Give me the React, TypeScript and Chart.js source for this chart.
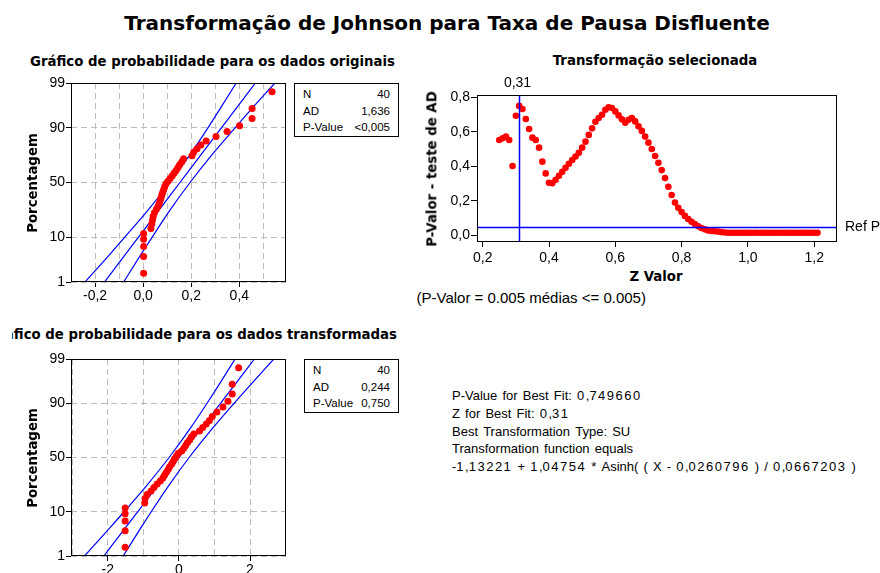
import React, { useEffect, useRef } from "react";
import { Chart, registerables } from "chart.js";

Chart.register(...registerables);

// ---------- Data ----------
// plotting positions (median ranks) in percent, n = 40
const PERCENTILES = [1.7, 4.2, 6.7, 9.2, 11.6, 14.1, 16.6, 19.1, 21.5, 24.0, 26.5, 29.0, 31.4, 33.9, 36.4, 38.9, 41.3, 43.8, 46.3, 48.8, 51.2, 53.7, 56.2, 58.7, 61.1, 63.6, 66.1, 68.6, 71.0, 73.5, 76.0, 78.5, 80.9, 83.4, 85.9, 88.4, 90.8, 93.3, 95.8, 98.3];

const ORIGINAL_DATA = [0.002, 0.002, 0.002, 0.002, 0.002, 0.032, 0.036, 0.039, 0.042, 0.047, 0.055, 0.062, 0.067, 0.071, 0.075, 0.078, 0.082, 0.086, 0.090, 0.095, 0.103, 0.112, 0.121, 0.129, 0.137, 0.145, 0.152, 0.161, 0.168, 0.203, 0.210, 0.224, 0.240, 0.262, 0.303, 0.349, 0.401, 0.453, 0.453, 0.536];

const TRANSFORMED_DATA = [-1.51, -1.51, -1.51, -1.51, -1.51, -0.96, -0.95, -0.89, -0.78, -0.70, -0.61, -0.52, -0.45, -0.40, -0.35, -0.30, -0.26, -0.20, -0.16, -0.12, -0.07, -0.02, 0.08, 0.14, 0.19, 0.24, 0.30, 0.35, 0.42, 0.58, 0.67, 0.77, 0.86, 0.94, 1.07, 1.24, 1.38, 1.50, 1.50, 1.68];

// fitted line and 95% band, at these percent levels
const BAND_PCT = [1, 5, 10, 25, 50, 75, 90, 95, 99];
const ORIG_LOWER = [-0.242, -0.133, -0.077, 0.016, 0.111, 0.198, 0.270, 0.311, 0.387];
const ORIG_FIT = [-0.161, -0.069, -0.020, 0.062, 0.153, 0.244, 0.326, 0.375, 0.467];
const ORIG_UPPER = [-0.081, -0.005, 0.037, 0.108, 0.195, 0.290, 0.383, 0.439, 0.548];
const TRANS_LOWER = [-2.652, -1.922, -1.539, -0.918, -0.274, 0.310, 0.793, 1.072, 1.582];
const TRANS_FIT = [-2.109, -1.489, -1.158, -0.606, 0.008, 0.622, 1.174, 1.505, 2.125];
const TRANS_UPPER = [-1.566, -1.056, -0.777, -0.294, 0.290, 0.934, 1.555, 1.938, 2.668];

const PCT_TICKS = [1, 10, 50, 90, 99];
const ORIG_X_TICKS = [-0.2, -0.1, 0, 0.1, 0.2, 0.3, 0.4, 0.5];
const ORIG_X_LABELED = [-0.2, 0, 0.2, 0.4];
const TRANS_X_TICKS = [-3, -2, -1, 0, 1, 2, 3];
const TRANS_X_LABELED = [-2, 0, 2];

const Z_VALUES = [0.25, 0.26, 0.27, 0.28, 0.29, 0.30, 0.31, 0.32, 0.33, 0.34, 0.35, 0.36, 0.37, 0.38, 0.39, 0.40, 0.41, 0.42, 0.43, 0.44, 0.45, 0.46, 0.47, 0.48, 0.49, 0.50, 0.51, 0.52, 0.53, 0.54, 0.55, 0.56, 0.57, 0.58, 0.59, 0.60, 0.61, 0.62, 0.63, 0.64, 0.65, 0.66, 0.67, 0.68, 0.69, 0.70, 0.71, 0.72, 0.73, 0.74, 0.75, 0.76, 0.77, 0.78, 0.79, 0.80, 0.81, 0.82, 0.83, 0.84, 0.85, 0.86, 0.87, 0.88, 0.89, 0.90, 0.91, 0.92, 0.93, 0.94, 0.95, 0.96, 0.97, 0.98, 0.99, 1.00, 1.01, 1.02, 1.03, 1.04, 1.05, 1.06, 1.07, 1.08, 1.09, 1.10, 1.11, 1.12, 1.13, 1.14, 1.15, 1.16, 1.17, 1.18, 1.19, 1.20, 1.21];
const P_VALUES = [0.552, 0.562, 0.572, 0.552, 0.402, 0.693, 0.750, 0.732, 0.674, 0.616, 0.566, 0.552, 0.508, 0.427, 0.359, 0.305, 0.302, 0.322, 0.345, 0.368, 0.392, 0.415, 0.437, 0.457, 0.478, 0.508, 0.543, 0.582, 0.620, 0.658, 0.680, 0.699, 0.728, 0.742, 0.738, 0.718, 0.695, 0.672, 0.652, 0.670, 0.680, 0.660, 0.632, 0.605, 0.572, 0.537, 0.500, 0.460, 0.420, 0.378, 0.332, 0.282, 0.234, 0.190, 0.160, 0.135, 0.113, 0.095, 0.079, 0.066, 0.053, 0.043, 0.035, 0.029, 0.026, 0.024, 0.022, 0.019, 0.017, 0.015, 0.015, 0.015, 0.015, 0.015, 0.015, 0.015, 0.015, 0.015, 0.015, 0.015, 0.015, 0.015, 0.015, 0.015, 0.015, 0.015, 0.015, 0.015, 0.015, 0.015, 0.015, 0.015, 0.015, 0.015, 0.015, 0.015, 0.015];
const Z_TICKS = [0.2, 0.4, 0.6, 0.8, 1.0, 1.2];
const P_TICKS = [0, 0.2, 0.4, 0.6, 0.8];
const BEST_Z = 0.31;
const REF_P = 0.05;

const STATS_ORIGINAL = [["N", "40"], ["AD", "1,636"], ["P-Value", "<0,005"]];
const STATS_TRANSFORMED = [["N", "40"], ["AD", "0,244"], ["P-Value", "0,750"]];
const BEST_FIT_LINES = [
  "P-Value for Best Fit: 0,749660",
  "Z for Best Fit: 0,31",
  "Best Transformation Type: SU",
  "Transformation function equals",
  "-1,13221 + 1,04754 * Asinh( ( X - 0,0260796 ) / 0,0667203 )",
];

// ---------- helpers ----------
const TICK_FONT = "Liberation Sans";
const BOLD_FONT = "DejaVu Sans";

function probit(p: number): number {
  const a = [-3.969683028665376e1, 2.209460984245205e2, -2.759285104469687e2, 1.38357751867269e2, -3.066479806614716e1, 2.506628277459239];
  const b = [-5.447609879822406e1, 1.615858368580409e2, -1.556989798598866e2, 6.680131188771972e1, -1.328068155288572e1];
  const c = [-7.784894002430293e-3, -3.223964580411365e-1, -2.400758277161838, -2.549732539343734, 4.374664141464968, 2.938163982698783];
  const d = [7.784695709041462e-3, 3.224671290700398e-1, 2.445134137142996, 3.754408661907416];
  const plow = 0.02425;
  if (p < plow) {
    const q = Math.sqrt(-2 * Math.log(p));
    return (((((c[0] * q + c[1]) * q + c[2]) * q + c[3]) * q + c[4]) * q + c[5]) / ((((d[0] * q + d[1]) * q + d[2]) * q + d[3]) * q + 1);
  }
  if (p <= 1 - plow) {
    const q = p - 0.5;
    const r = q * q;
    return ((((((a[0] * r + a[1]) * r + a[2]) * r + a[3]) * r + a[4]) * r + a[5]) * q) / (((((b[0] * r + b[1]) * r + b[2]) * r + b[3]) * r + b[4]) * r + 1);
  }
  const q = Math.sqrt(-2 * Math.log(1 - p));
  return -(((((c[0] * q + c[1]) * q + c[2]) * q + c[3]) * q + c[4]) * q + c[5]) / ((((d[0] * q + d[1]) * q + d[2]) * q + d[3]) * q + 1);
}

const fmt = (v: number, dec: number) => v.toFixed(dec).replace(".", ",");
const inList = (list: number[], v: number) => list.some((l) => Math.abs(l - v) < 1e-9);

const framePlugin = {
  id: "frame",
  afterDraw(chart: any) {
    const { ctx, chartArea: a } = chart;
    const l = Math.round(a.left), t = Math.round(a.top), r = Math.round(a.right), b = Math.round(a.bottom);
    ctx.save();
    ctx.strokeStyle = "#000";
    ctx.lineWidth = 1;
    ctx.setLineDash([]);
    ctx.strokeRect(l + 0.5, t + 0.5, r - l - 1, b - t - 1);
    ctx.restore();
  },
};

const refPlugin = {
  id: "refLines",
  afterDatasetsDraw(chart: any) {
    const { ctx, chartArea: a, scales } = chart;
    const px = Math.round(scales.x.getPixelForValue(BEST_Z)) + 0.5;
    const py = Math.round(scales.y.getPixelForValue(REF_P)) + 0.5;
    ctx.save();
    ctx.strokeStyle = "#0000ff";
    ctx.lineWidth = 1.5;
    ctx.beginPath();
    ctx.moveTo(px, a.top);
    ctx.lineTo(px, a.bottom);
    ctx.moveTo(a.left, py);
    ctx.lineTo(a.right, py);
    ctx.stroke();
    ctx.fillStyle = "#000";
    ctx.font = `14px "${TICK_FONT}"`;
    ctx.textAlign = "center";
    ctx.textBaseline = "middle";
    ctx.fillText(fmt(BEST_Z, 2), px - 2, a.top - 12);
    ctx.textAlign = "left";
    ctx.fillText("Ref P", a.right + 8, py);
    ctx.restore();
  },
};

function probConfig(values: number[], lower: number[], fit: number[], upper: number[], xMin: number, xMax: number, xTicks: number[], xLabeled: number[], dec: number) {
  const band = (arr: number[]) => arr.map((x, i) => ({ x, y: probit(BAND_PCT[i] / 100) }));
  const lineDs = (arr: number[]) => ({
    data: band(arr),
    showLine: true,
    pointRadius: 0,
    borderColor: "#0000ff",
    borderWidth: 1.2,
    cubicInterpolationMode: "monotone",
  });
  return {
    type: "scatter",
    data: {
      datasets: [
        {
          data: values.map((x, i) => ({ x, y: probit(PERCENTILES[i] / 100) })),
          pointRadius: 3.5,
          pointBackgroundColor: "#ff0000",
          pointBorderWidth: 0,
          showLine: false,
        },
        lineDs(lower),
        lineDs(fit),
        lineDs(upper),
      ],
    },
    options: {
      responsive: false,
      animation: false,
      devicePixelRatio: 1,
      layout: { padding: { top: 12, right: 8, left: 0, bottom: 0 } },
      plugins: { legend: { display: false }, tooltip: { enabled: false } },
      scales: {
        x: {
          type: "linear",
          min: xMin,
          max: xMax,
          afterBuildTicks: (s: any) => {
            s.ticks = xTicks.map((v) => ({ value: v }));
          },
          afterFit: (s: any) => {
            s.height = 26;
          },
          ticks: {
            autoSkip: false,
            maxRotation: 0,
            padding: 1,
            color: "#000",
            font: { family: TICK_FONT, size: 14 },
            callback: (v: number) => (inList(xLabeled, v) ? fmt(v, dec) : ""),
          },
          grid: {
            color: "#bdbdbd",
            lineWidth: 1,
            tickLength: 5,
            tickWidth: 1,
            tickColor: (ctx: any) => (ctx.tick && inList(xLabeled, ctx.tick.value) ? "#000" : "rgba(0,0,0,0)"),
          },
          border: { display: false, dash: [6, 4] },
        },
        y: {
          type: "linear",
          min: probit(0.01),
          max: probit(0.99),
          afterBuildTicks: (s: any) => {
            s.ticks = PCT_TICKS.map((p) => ({ value: probit(p / 100) }));
          },
          afterFit: (s: any) => {
            s.width = 50;
          },
          ticks: {
            autoSkip: false,
            padding: 1,
            color: "#000",
            font: { family: TICK_FONT, size: 14 },
            callback: (_v: number, i: number) => String(PCT_TICKS[i]),
          },
          grid: { color: "#bdbdbd", lineWidth: 1, tickLength: 5, tickWidth: 1, tickColor: "#000" },
          border: { display: false, dash: [6, 4] },
        },
      },
    },
    plugins: [framePlugin],
  };
}

function zConfig() {
  return {
    type: "scatter",
    data: {
      datasets: [
        {
          data: Z_VALUES.map((z, i) => ({ x: z, y: P_VALUES[i] })),
          pointRadius: 3.3,
          pointBackgroundColor: "#ff0000",
          pointBorderWidth: 0,
        },
      ],
    },
    options: {
      responsive: false,
      animation: false,
      devicePixelRatio: 1,
      layout: { padding: { top: 25, right: 43, left: 0, bottom: 0 } },
      plugins: { legend: { display: false }, tooltip: { enabled: false } },
      scales: {
        x: {
          type: "linear",
          min: 0.1828,
          max: 1.2688,
          afterBuildTicks: (s: any) => {
            s.ticks = Z_TICKS.map((v) => ({ value: v }));
          },
          afterFit: (s: any) => {
            s.height = 26;
          },
          ticks: {
            autoSkip: false,
            maxRotation: 0,
            padding: 3,
            color: "#000",
            font: { family: TICK_FONT, size: 14 },
            callback: (v: number) => fmt(v, 1),
          },
          grid: { drawOnChartArea: false, color: "#000", tickLength: 5, tickWidth: 1 },
          border: { display: false },
        },
        y: {
          type: "linear",
          min: -0.0382,
          max: 0.813,
          afterBuildTicks: (s: any) => {
            s.ticks = P_TICKS.map((v) => ({ value: v }));
          },
          afterFit: (s: any) => {
            s.width = 45;
          },
          ticks: {
            autoSkip: false,
            padding: 1,
            color: "#000",
            font: { family: TICK_FONT, size: 14 },
            callback: (v: number) => fmt(v, 1),
          },
          grid: { drawOnChartArea: false, color: "#000", tickLength: 6, tickWidth: 1 },
          border: { display: false },
        },
      },
    },
    plugins: [refPlugin, framePlugin],
  };
}

function ChartCanvas(props: { left: number; top: number; width: number; height: number; make: () => any }) {
  const ref = useRef<HTMLCanvasElement>(null);
  useEffect(() => {
    const chart = new Chart(ref.current as HTMLCanvasElement, props.make());
    return () => chart.destroy();
  }, []);
  return (
    <canvas
      ref={ref}
      width={props.width}
      height={props.height}
      style={{ position: "absolute", left: props.left, top: props.top, width: props.width, height: props.height }}
    />
  );
}

function Label(props: { x: number; y: number; text: string; size: number; bold?: boolean; family?: string; align?: "center" | "left" | "right"; rotate?: boolean }) {
  const align = props.align || "center";
  const tx = align === "center" ? "-50%" : align === "right" ? "-100%" : "0";
  return (
    <div
      style={{
        position: "absolute",
        left: props.x,
        top: props.y,
        transform: `translate(${tx}, -50%)${props.rotate ? " rotate(-90deg)" : ""}`,
        fontFamily: props.family || (props.bold ? BOLD_FONT : TICK_FONT),
        fontWeight: props.bold ? "bold" : "normal",
        fontSize: props.size,
        lineHeight: 1,
        whiteSpace: "nowrap",
        color: "#000",
      }}
    >
      {props.text}
    </div>
  );
}

// digits and spaces of the reference's text block are set wider than the letters
function WideDigits(props: { text: string }) {
  const parts = props.text.split(/([0-9 ]+)/);
  return (
    <>
      {parts.map((p, i) =>
        /^[0-9 ]+$/.test(p) ? (
          <span key={i} style={{ letterSpacing: "1.5px", whiteSpace: "pre" }}>
            {p}
          </span>
        ) : (
          <span key={i}>{p}</span>
        )
      )}
    </>
  );
}

function StatsBox(props: { left: number; top: number; width: number; height: number; rows: string[][] }) {
  return (
    <div
      style={{
        position: "absolute",
        left: props.left,
        top: props.top,
        width: props.width,
        height: props.height,
        boxSizing: "border-box",
        border: "1px solid #000",
        padding: "2px 8px 0 8px",
        fontFamily: TICK_FONT,
        fontSize: 11.5,
        color: "#000",
      }}
    >
      {props.rows.map((r, i) => (
        <div key={i} style={{ display: "flex", justifyContent: "space-between", height: 16.5, lineHeight: "16.5px" }}>
          <span>{r[0]}</span>
          <span>{r[1]}</span>
        </div>
      ))}
    </div>
  );
}

export default function App() {
  return (
    <div style={{ position: "fixed", left: 0, top: 0, width: 880, height: 573, background: "#fff", overflow: "hidden" }}>
      <ChartCanvas
        left={21}
        top={71}
        width={273}
        height={237}
        make={() => probConfig(ORIGINAL_DATA, ORIG_LOWER, ORIG_FIT, ORIG_UPPER, -0.3, 0.594, ORIG_X_TICKS, ORIG_X_LABELED, 1)}
      />
      <ChartCanvas
        left={21}
        top={347}
        width={273}
        height={235}
        make={() => probConfig(TRANSFORMED_DATA, TRANS_LOWER, TRANS_FIT, TRANS_UPPER, -3.032, 3.012, TRANS_X_TICKS, TRANS_X_LABELED, 0)}
      />
      <ChartCanvas left={432} top={70} width={448} height={198} make={zConfig} />

      <Label x={447} y={23} text="Transformação de Johnson para Taxa de Pausa Disfluente" size={20} bold />
      <Label x={212.5} y={61.5} text="Gráfico de probabilidade para os dados originais" size={13.3} bold />
      <Label x={655} y={60.5} text="Transformação selecionada" size={13.3} bold />
      <div style={{ position: "absolute", left: 12, top: 325, width: 385, height: 22, overflow: "hidden" }}>
        <div
          style={{
            position: "absolute",
            right: 0,
            top: 10,
            transform: "translateY(-50%)",
            fontFamily: BOLD_FONT,
            fontWeight: "bold",
            fontSize: 13.3,
            lineHeight: 1,
            whiteSpace: "nowrap",
          }}
        >
          Gráfico de probabilidade para os dados transformadas
        </div>
      </div>

      <Label x={32.5} y={183} text="Porcentagem" size={13.3} bold rotate />
      <Label x={33} y={458} text="Porcentagem" size={13.3} bold rotate />
      <Label x={431.5} y={169} text="P-Valor - teste de AD" size={13.3} bold rotate />
      <Label x={656} y={277} text="Z Valor" size={13.3} bold />
      <Label x={416.5} y={297} text="(P-Valor = 0.005 médias <= 0.005)" size={15} align="left" />

      <StatsBox left={294} top={83} width={105} height={54} rows={STATS_ORIGINAL} />
      <StatsBox left={304} top={359} width={95} height={54} rows={STATS_TRANSFORMED} />

      {BEST_FIT_LINES.map((t, i) => (
        <div
          key={i}
          style={{
            position: "absolute",
            left: 452,
            top: 395 + i * 17.75,
            transform: "translateY(-50%)",
            fontFamily: TICK_FONT,
            fontSize: 13,
            lineHeight: 1,
            whiteSpace: "nowrap",
            color: "#000",
          }}
        >
          <WideDigits text={t} />
        </div>
      ))}
    </div>
  );
}
